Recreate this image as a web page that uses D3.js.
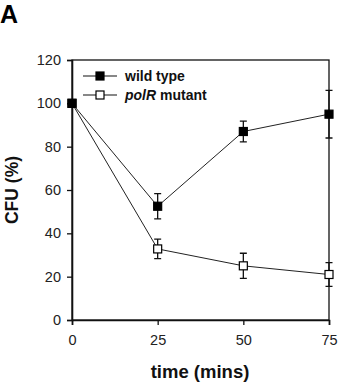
<!DOCTYPE html>
<html>
<head>
<meta charset="utf-8">
<script src="https://cdn.jsdelivr.net/npm/d3@7"></script>
<style>
  body { margin: 0; background: #fff; }
  svg { display: block; font-family: "Liberation Sans", Arial, sans-serif; }
</style>
</head>
<body>
<div id="chart"></div>
<script>
'use strict';

// Data
const times = [0, 25, 50, 75];
const wildType = [100, 52.5, 87, 95];
const wildTypeErr = [0, 5.8, 4.8, 11];
const polR = [100, 32.8, 25, 21];
const polRErr = [0, 4.5, 5.8, 5.5];
const yTicks = [0, 20, 40, 60, 80, 100, 120];

const width = 341, height = 389;
const margin = { top: 60, right: 12, bottom: 69, left: 72 };
const innerWidth = width - margin.left - margin.right;
const innerHeight = height - margin.top - margin.bottom;

const svg = d3.select("#chart").append("svg")
    .attr("width", width)
    .attr("height", height);

const chart = svg.append("g")
    .attr("transform", `translate(${margin.left},${margin.top})`);

const x = d3.scaleLinear().domain([0, 75]).range([0, innerWidth]);
const y = d3.scaleLinear().domain([0, 120]).range([innerHeight, 0]);

// Frame (top and right)
chart.append("rect")
    .attr("width", innerWidth)
    .attr("height", innerHeight)
    .attr("fill", "none")
    .attr("stroke", "#111")
    .attr("stroke-width", 1.3);

// Axes
const axisY = chart.append("g")
    .call(d3.axisLeft(y).tickValues(yTicks).tickSize(5).tickPadding(6));
const axisX = chart.append("g")
    .attr("transform", `translate(0,${innerHeight})`)
    .call(d3.axisBottom(x).tickValues(times).tickSize(5).tickPadding(10));

[axisX, axisY].forEach(a => {
    a.select(".domain").attr("stroke", "#111").attr("stroke-width", 1.6);
    a.selectAll(".tick line").attr("stroke", "#111").attr("stroke-width", 1.3);
    a.selectAll("text")
        .attr("fill", "#222")
        .attr("font-size", 14.5)
        .attr("font-family", "Liberation Sans, Arial, sans-serif");
});

const series = [
    { name: "wild type", values: wildType, errs: wildTypeErr, fill: "#000" },
    { name: "polR", values: polR, errs: polRErr, fill: "#fff" }
];

const line = d3.line()
    .x((d, i) => x(times[i]))
    .y(d => y(d));

// Draw polR first so wild type sits on top at the shared origin
series.slice().reverse().forEach(s => {
    const g = chart.append("g");

    g.append("path")
        .attr("d", line(s.values))
        .attr("fill", "none")
        .attr("stroke", "#222")
        .attr("stroke-width", 1);

    const pts = times.map((t, i) => ({ t, v: s.values[i], e: s.errs[i] }))
        .filter(d => d.e > 0);

    g.selectAll(".err")
        .data(pts)
        .join("path")
        .attr("class", "err")
        .attr("fill", "none")
        .attr("stroke", "#111")
        .attr("stroke-width", 1.3)
        .attr("d", d => {
            const cx = x(d.t), y0 = y(d.v - d.e), y1 = y(d.v + d.e);
            return `M${cx},${y0}V${y1}M${cx - 3.5},${y0}H${cx + 3.5}M${cx - 3.5},${y1}H${cx + 3.5}`;
        });

    g.selectAll(".marker")
        .data(s.values)
        .join("rect")
        .attr("class", "marker")
        .attr("x", (d, i) => x(times[i]) - 4)
        .attr("y", d => y(d) - 4)
        .attr("width", 8)
        .attr("height", 8)
        .attr("fill", s.fill)
        .attr("stroke", "#000")
        .attr("stroke-width", 1.2);
});

// Legend
const legend = chart.append("g").attr("transform", "translate(11,16)");
series.forEach((s, i) => {
    const row = legend.append("g").attr("transform", `translate(0,${i * 19})`);
    row.append("line")
        .attr("x1", 0).attr("x2", 34)
        .attr("stroke", "#111").attr("stroke-width", 1.2);
    row.append("rect")
        .attr("x", 13).attr("y", -4)
        .attr("width", 8).attr("height", 8)
        .attr("fill", s.fill)
        .attr("stroke", "#000")
        .attr("stroke-width", 1.2);
    const t = row.append("text")
        .attr("x", 42)
        .attr("y", 5)
        .attr("font-size", 14)
        .attr("font-weight", "bold")
        .attr("fill", "#111");
    if (s.name === "polR") {
        t.append("tspan").attr("font-style", "italic").text("polR");
        t.append("tspan").text(" mutant");
    } else {
        t.text(s.name);
    }
});

// Axis titles
svg.append("text")
    .attr("transform", `translate(18,${margin.top + innerHeight / 2}) rotate(-90)`)
    .attr("text-anchor", "middle")
    .attr("font-size", 17.5)
    .attr("font-weight", "bold")
    .attr("fill", "#111")
    .text("CFU (%)");

svg.append("text")
    .attr("x", 200)
    .attr("y", 378)
    .attr("text-anchor", "middle")
    .attr("font-size", 18.5)
    .attr("font-weight", "bold")
    .attr("fill", "#111")
    .text("time (mins)");

// Panel letter
svg.append("text")
    .attr("x", 0)
    .attr("y", 23)
    .attr("font-size", 25)
    .attr("font-weight", "bold")
    .attr("fill", "#000")
    .text("A");
</script>
</body>
</html>
